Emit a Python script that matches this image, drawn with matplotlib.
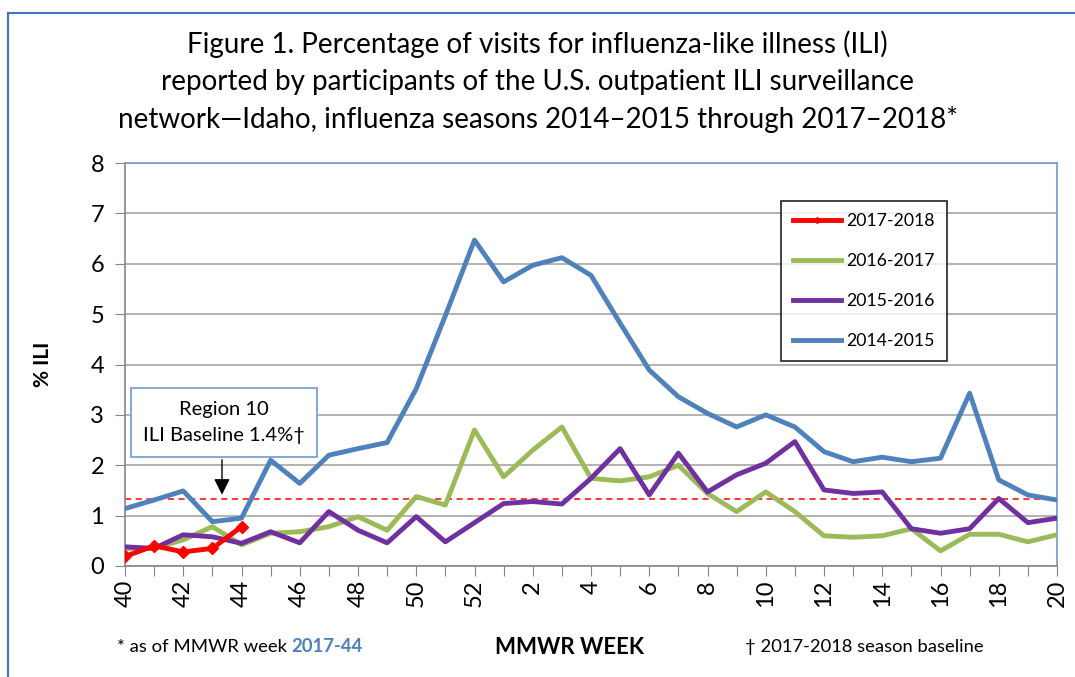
import matplotlib
matplotlib.use("Agg")
import matplotlib.pyplot as plt
from matplotlib.lines import Line2D
from matplotlib.patches import Rectangle

plt.rcParams['font.family'] = ['Lato', 'DejaVu Sans']

weeks = [40, 41, 42, 43, 44, 45, 46, 47, 48, 49, 50, 51, 52,
         1, 2, 3, 4, 5, 6, 7, 8, 9, 10, 11, 12, 13, 14, 15, 16, 17, 18, 19, 20]

ili_2014 = [1.14, 1.31, 1.49, 0.88, 0.95, 2.10, 1.64, 2.20, 2.33, 2.45, 3.52, 4.97, 6.47,
            5.64, 5.97, 6.12, 5.77, 4.82, 3.89, 3.36, 3.03, 2.76, 3.00, 2.76, 2.27, 2.07,
            2.16, 2.07, 2.14, 3.43, 1.71, 1.41, 1.31]
ili_2015 = [0.38, 0.35, 0.62, 0.58, 0.45, 0.68, 0.46, 1.08, 0.71, 0.46, 0.98, 0.48, 0.86,
            1.24, 1.28, 1.23, 1.74, 2.33, 1.41, 2.24, 1.47, 1.81, 2.04, 2.47, 1.51, 1.44,
            1.47, 0.74, 0.65, 0.74, 1.34, 0.86, 0.95]
ili_2016 = [0.35, 0.35, 0.52, 0.78, 0.42, 0.65, 0.68, 0.78, 0.98, 0.71, 1.38, 1.21, 2.70,
            1.77, 2.30, 2.76, 1.74, 1.69, 1.77, 2.00, 1.44, 1.08, 1.47, 1.08, 0.60, 0.57,
            0.60, 0.74, 0.30, 0.63, 0.63, 0.48, 0.62]
ili_2017 = [0.19, 0.40, 0.28, 0.35, 0.78]
baseline = 1.33

W, H = 1075, 677
fig = plt.figure(figsize=(W / 100, H / 100), dpi=100)
ax = fig.add_axes([125 / W, (H - 566) / H, 932 / W, 403 / H])

x = list(range(len(weeks)))
lw = 3.5
ax.plot(x, ili_2014, color='#4F81BD', lw=lw, label='2014-2015', zorder=3)
ax.plot(x, ili_2016, color='#9BBB59', lw=lw, label='2016-2017', zorder=4)
ax.plot(x, ili_2015, color='#7030A0', lw=lw, label='2015-2016', zorder=5)
ax.plot(x[:len(ili_2017)], ili_2017, color='#FF0000', lw=lw, marker='D', ms=6,
        label='2017-2018', zorder=6)
ax.axhline(baseline, color='#FF0000', lw=1.1, ls=(0, (4, 3)), zorder=2)

ax.set_xlim(0, len(weeks) - 1)
ax.set_ylim(0, 8)
ax.set_yticks(range(0, 9))
ax.set_xticks(x)
ax.set_xticklabels([str(w) if w % 2 == 0 else '' for w in weeks], rotation=90, fontsize=17)
ax.tick_params(axis='y', labelsize=17, length=7, color='#868686', pad=8)
ax.tick_params(axis='x', length=7, color='#868686', pad=3)
ax.yaxis.grid(True, color='#A6A6A6', lw=1.2)
ax.set_axisbelow(True)
for s in ['left', 'bottom']:
    ax.spines[s].set_color('#868686')
    ax.spines[s].set_linewidth(1.2)
for s in ['top', 'right']:
    ax.spines[s].set_color('#6E9BD1')
    ax.spines[s].set_linewidth(1.2)

ax.set_ylabel('% ILI', fontsize=15, fontweight='bold', labelpad=27)

handles, labels = ax.get_legend_handles_labels()
order = [3, 1, 2, 0]
leg = ax.legend([handles[i] for i in order], [labels[i] for i in order],
                loc='upper left', bbox_to_anchor=(781 / W, (H - 201) / H),
                bbox_transform=fig.transFigure, borderaxespad=0, fontsize=12.7,
                frameon=True, fancybox=False, edgecolor='black', handlelength=2.7,
                labelspacing=1.35, borderpad=0.7, handletextpad=0.3, markerscale=0.5)
leg.get_frame().set_linewidth(1.3)

# annotation box for baseline
fig.add_artist(Rectangle((131 / W, (H - 457) / H), 186 / W, 69 / H,
                         facecolor='white', edgecolor='#6E9BD1', lw=1.2,
                         transform=fig.transFigure, zorder=10))
fig.text(224 / W, (H - 409) / H, 'Region 10', ha='center', va='center', fontsize=14.5, zorder=11)
fig.text(224 / W, (H - 435) / H, 'ILI Baseline 1.4%†', ha='center', va='center', fontsize=14.5, zorder=11)
ax.annotate('', xy=(3.33, baseline + 0.03), xycoords='data',
            xytext=(222 / W, (H - 457) / H), textcoords='figure fraction',
            arrowprops=dict(arrowstyle='-|>', color='black', lw=1, mutation_scale=24))

fig.suptitle('Figure 1. Percentage of visits for influenza-like illness (ILI)\n'
             'reported by participants of the U.S. outpatient ILI surveillance\n'
             'network—Idaho, influenza seasons 2014–2015 through 2017–2018*',
             y=(H - 30) / H, fontsize=20, linespacing=1.52)

t1 = fig.text(117 / W, 30 / H, '* as of MMWR week ', fontsize=13.3, va='center')
ax.annotate('2017-44', xy=(1, 0.5), xycoords=t1, va='center', ha='left',
            fontsize=13.3, color='#4F81BD', fontweight='bold', annotation_clip=False)
fig.text(570 / W, 30 / H, 'MMWR WEEK', fontsize=16, va='center', ha='center', fontweight='bold')
fig.text(745 / W, 30 / H, '† 2017-2018 season baseline', fontsize=13.2, va='center')

# outer chart border
fig.add_artist(Line2D([8 / W, 8 / W], [0, (H - 13) / H], color='#4472C4', lw=1.5))
fig.add_artist(Line2D([8 / W, 1], [(H - 13) / H, (H - 13) / H], color='#4472C4', lw=1.5))

fig.savefig('out.png', dpi=100)
